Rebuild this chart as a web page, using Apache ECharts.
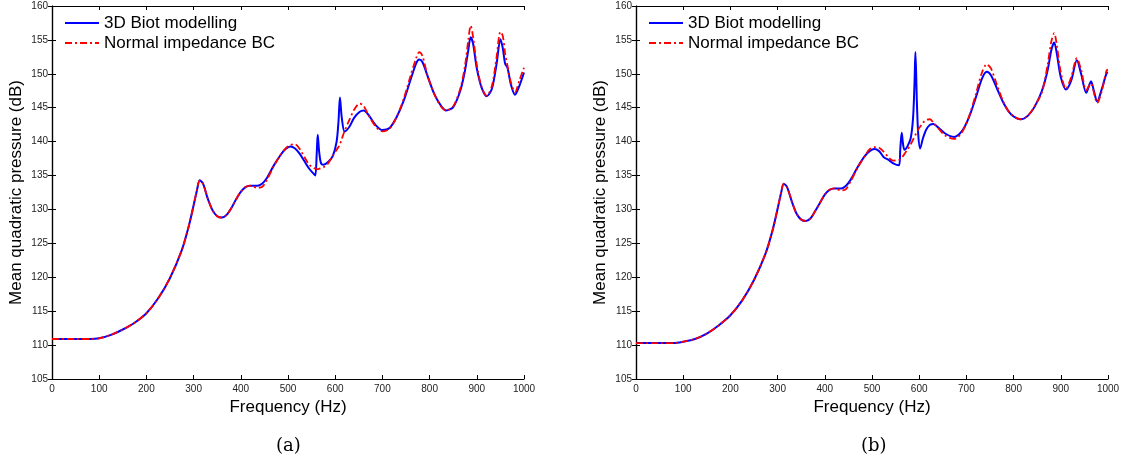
<!DOCTYPE html>
<html>
<head>
<meta charset="utf-8">
<script src="https://cdn.jsdelivr.net/npm/echarts@6/dist/echarts.min.js"></script>
<style>
  html, body { margin: 0; padding: 0; background: #fff; }
  #chart { width: 1125px; height: 460px; }
</style>
</head>
<body>
<div id="chart"></div>
<script>
// Frequency grid (Hz) and mean quadratic pressure (dB), panel (a)
const freqA = [0,50,80,100,125,150,175,200,225,250,275,290,300,307,313,320,330,340,350,360,370,380,390,400,410,420,435,445,455,470,485,495,505,515,525,535,545,555,558,561,563,566,570,575,585,595,603,607,610,614,620,630,640,652,660,670,685,700,715,730,745,760,772,778,785,795,810,825,835,850,865,875,882,887,892,900,910,921,932,942,950,955,960,965,972,981,990,1000];
const biotA = [110.9,110.9,110.9,111.0,111.5,112.3,113.3,114.7,116.9,119.9,124.0,127.6,130.6,132.8,134.3,133.8,131.6,129.9,129.0,128.8,129.2,130.2,131.5,132.6,133.3,133.5,133.5,133.8,134.6,136.5,138.1,138.9,139.3,139.0,138.2,137.1,136.0,135.2,135.0,138.5,141.0,138.5,136.8,136.6,137.0,137.9,140.0,143.0,146.5,143.5,141.5,142.2,143.5,144.4,144.6,144.0,142.5,141.7,142.0,143.6,146.0,149.2,151.6,152.1,151.7,149.8,147.0,145.2,144.6,145.1,147.5,150.5,153.5,155.4,154.5,150.8,148.0,146.7,147.8,151.5,155.1,153.8,151.5,150.9,148.5,146.9,148.2,150.2];
const normalA = [110.9,110.9,110.9,111.0,111.5,112.3,113.3,114.7,116.9,119.9,124.0,127.6,130.6,132.8,134.3,133.8,131.6,129.9,129.0,128.8,129.2,130.2,131.5,132.6,133.3,133.5,133.2,133.3,134.3,136.4,138.1,139.0,139.5,139.6,138.9,137.7,136.6,136.1,136.0,135.95,135.95,136.0,136.1,136.2,136.8,137.9,138.8,139.2,139.6,140.4,141.6,143.2,144.7,145.6,145.3,144.0,142.3,141.5,141.9,143.6,146.3,149.8,152.4,153.2,152.6,149.9,147.0,145.1,144.6,145.2,147.8,151.2,155.0,157.1,155.5,151.3,148.1,146.8,148.2,152.5,156.2,155.6,153.0,151.2,148.8,147.3,149.0,150.9];

// Frequency grid (Hz) and mean quadratic pressure (dB), panel (b)
const freqB = [0,50,80,100,125,150,175,200,225,250,275,290,300,307,313,320,330,340,350,360,370,380,390,400,410,420,435,445,455,470,485,495,505,515,525,535,545,557,560,563,566,569,575,582,587,590,592,595,598,602,608,615,623,630,640,655,674,690,705,720,733,743,752,765,780,795,815,830,845,860,872,880,886,892,900,911,922,934,943,954,964,970,977,987,997,1000];
const biotB = [110.3,110.3,110.3,110.5,110.9,111.7,112.9,114.4,116.6,119.6,123.6,127.1,130.1,132.3,133.8,133.3,131.2,129.4,128.5,128.3,128.7,129.8,131.0,132.2,132.9,133.1,133.1,133.5,134.4,136.3,137.9,138.6,138.9,138.6,137.7,137.3,136.8,136.5,139.0,141.3,139.5,138.8,139.3,140.5,143.5,148.5,153.2,146.0,141.0,139.0,140.5,141.8,142.5,142.6,142.1,141.2,140.7,141.5,143.5,146.5,149.3,150.3,149.8,147.8,145.5,144.0,143.3,143.8,145.2,147.5,150.5,153.5,154.6,152.8,149.5,147.7,149.0,152.0,150.0,147.2,148.9,147.5,145.9,147.8,150.1,150.2];
const normalB = [110.3,110.3,110.3,110.5,110.9,111.7,112.9,114.4,116.6,119.6,123.6,127.1,130.1,132.3,133.8,133.3,131.2,129.4,128.5,128.3,128.7,129.8,131.0,132.2,132.9,133.1,132.8,133.0,134.2,136.2,137.9,138.9,139.2,139.1,138.5,137.7,137.2,137.3,137.5,137.7,137.9,138.2,138.8,139.6,140.3,140.7,141.0,141.4,141.8,142.2,142.8,143.2,143.3,142.8,142.0,140.9,140.4,141.3,143.6,147.0,150.2,151.4,150.8,148.3,145.6,144.0,143.3,143.8,145.3,147.3,151.3,154.8,156.0,154.0,150.2,147.8,149.5,152.3,150.6,147.6,148.6,147.3,145.7,147.5,150.5,150.6];

const seriesNames = ['3D Biot modelling', 'Normal impedance BC'];
const panelCaptions = ['(a)', '(b)'];
const xLabel = 'Frequency (Hz)';
const yLabel = 'Mean quadratic pressure (dB)';

const SANS = '"Liberation Sans", Arial, Helvetica, sans-serif';
const grids = [
  { left: 52, right: 601, top: 6, bottom: 81 },
  { left: 636, right: 17, top: 6, bottom: 81 }
];

function pairs(xs, ys) { return xs.map((x, i) => [x, ys[i]]); }

const axisLine = { show: true, lineStyle: { color: '#000', width: 1.2 } };
const tick = { show: true, inside: true, length: 4, lineStyle: { color: '#000', width: 1 } };

const xAxes = [], yAxes = [], series = [], legends = [], graphics = [];
grids.forEach((g, gi) => {
  // bottom axis with labels
  xAxes.push({
    type: 'value', gridIndex: gi, min: 0, max: 1000, interval: 100, position: 'bottom',
    axisLine, axisTick: tick, splitLine: { show: false },
    axisLabel: { color: '#222', fontSize: 10, fontFamily: SANS, margin: 5, formatter: v => String(v) },
    name: xLabel, nameLocation: 'middle', nameGap: 17,
    nameTextStyle: { color: '#000', fontSize: 17, fontFamily: SANS }
  });
  // top frame edge with mirrored ticks
  xAxes.push({
    type: 'value', gridIndex: gi, min: 0, max: 1000, interval: 100, position: 'top',
    axisLine, axisTick: tick, axisLabel: { show: false }, splitLine: { show: false }
  });
  yAxes.push({
    type: 'value', gridIndex: gi, min: 105, max: 160, interval: 5, position: 'left',
    axisLine, axisTick: tick, splitLine: { show: false },
    axisLabel: { color: '#222', fontSize: 10, fontFamily: SANS, margin: 4 },
    name: yLabel, nameLocation: 'middle', nameGap: 27,
    nameTextStyle: { color: '#000', fontSize: 17, fontFamily: SANS }
  });
  // right frame edge with mirrored ticks
  yAxes.push({
    type: 'value', gridIndex: gi, min: 105, max: 160, interval: 5, position: 'right',
    axisLine, axisTick: tick, axisLabel: { show: false }, splitLine: { show: false }
  });
  legends.push({
    data: seriesNames, orient: 'vertical', left: g.left + 12, top: 13, padding: 0,
    itemWidth: 34, itemHeight: 12, itemGap: 0, selectedMode: false,
    itemStyle: { opacity: 0 },
    textStyle: { color: '#000', fontSize: 17, fontFamily: SANS, lineHeight: 20 }
  });
});

const panels = [[freqA, biotA, normalA], [freqB, biotB, normalB]];
panels.forEach(([f, b, n], gi) => {
  series.push({
    name: seriesNames[0], type: 'line', xAxisIndex: gi * 2, yAxisIndex: gi * 2,
    data: pairs(f, b), showSymbol: false, symbol: 'none', smooth: 0.3,
    lineStyle: { color: '#0000ff', width: 2 }, itemStyle: { color: '#0000ff' },
    z: 2, animation: false
  });
  series.push({
    name: seriesNames[1], type: 'line', xAxisIndex: gi * 2, yAxisIndex: gi * 2,
    data: pairs(f, n), showSymbol: false, symbol: 'none', smooth: 0.3,
    lineStyle: { color: '#ff0000', width: 1.8, type: [7, 3, 2, 3] }, itemStyle: { color: '#ff0000' },
    z: 3, animation: false
  });
});

// subfigure captions
graphics.push(
  { type: 'text', left: 276, top: 437, style: { text: panelCaptions[0], fill: '#000', font: '18px "DejaVu Serif", "Liberation Serif", serif', textAlign: 'center', textVerticalAlign: 'middle' } },
  { type: 'text', left: 861, top: 437, style: { text: panelCaptions[1], fill: '#000', font: '18px "DejaVu Serif", "Liberation Serif", serif', textAlign: 'center', textVerticalAlign: 'middle' } }
);

const chart = echarts.init(document.getElementById('chart'), null, { renderer: 'canvas' });
chart.setOption({
  animation: false,
  backgroundColor: '#fff',
  grid: grids,
  xAxis: xAxes,
  yAxis: yAxes,
  legend: legends,
  series,
  graphic: graphics
});
</script>
</body>
</html>
